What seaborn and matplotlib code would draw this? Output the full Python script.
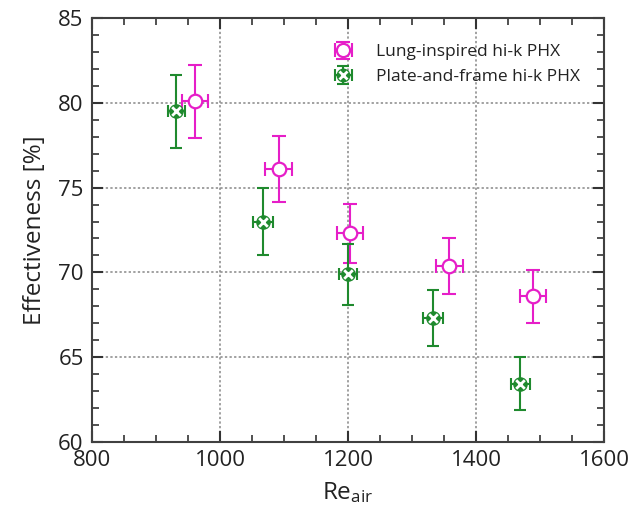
import matplotlib
matplotlib.use("Agg")
import matplotlib.pyplot as plt
import seaborn as sns
import pandas as pd
from matplotlib.lines import Line2D
from matplotlib.legend_handler import HandlerTuple
from matplotlib.ticker import MultipleLocator

# ---- data ----
lung_re = [961, 1092, 1203, 1358, 1489]
lung_eff = [80.1, 76.1, 72.3, 70.4, 68.6]
lung_eff_err = [2.15, 1.95, 1.75, 1.65, 1.57]
lung_re_err = [20, 21, 20, 21, 21]

plate_re = [932, 1067, 1200, 1333, 1469]
plate_eff = [79.5, 73.0, 69.9, 67.3, 63.45]
plate_eff_err = [2.15, 1.95, 1.8, 1.65, 1.55]
plate_re_err = [14, 15.5, 14, 16, 15]

series_names = ["Lung-inspired hi-k PHX", "Plate-and-frame hi-k PHX"]

MAG = "#E61EC8"
GRN = "#1F8A2E"

sns.set_theme(style="ticks")
plt.rcParams["font.family"] = ["Open Sans", "DejaVu Sans"]
plt.rcParams["mathtext.fontset"] = "custom"
plt.rcParams["mathtext.rm"] = "Open Sans"
plt.rcParams["mathtext.it"] = "Open Sans"

df_l = pd.DataFrame({"Re": lung_re, "Eff": lung_eff})
df_p = pd.DataFrame({"Re": plate_re, "Eff": plate_eff})

fig = plt.figure(figsize=(6.38, 5.14), dpi=100)
ax = fig.add_axes([0.1442, 0.14, 0.8025, 0.825])

# error bars
eb_l = ax.errorbar(lung_re, lung_eff, yerr=lung_eff_err, xerr=lung_re_err, fmt="none",
                   ecolor=MAG, elinewidth=1.5, capsize=5, capthick=1.5, zorder=3)
eb_p = ax.errorbar(plate_re, plate_eff, yerr=plate_eff_err, xerr=plate_re_err, fmt="none",
                   ecolor=GRN, elinewidth=1.5, capsize=4.5, capthick=1.5, zorder=3)

# markers via seaborn
sns.scatterplot(data=df_l, x="Re", y="Eff", ax=ax, marker="o", s=95,
                facecolor="white", edgecolor=MAG, linewidth=1.6, zorder=5)
sns.scatterplot(data=df_p, x="Re", y="Eff", ax=ax, marker="o", s=90,
                color=GRN, edgecolor=GRN, linewidth=1.0, zorder=5)
sns.scatterplot(data=df_p, x="Re", y="Eff", ax=ax, marker="x", s=38,
                color="white", linewidth=2.0, zorder=6)

ax.set_xlim(800, 1600)
ax.set_ylim(60, 85)
ax.xaxis.set_major_locator(MultipleLocator(200))
ax.xaxis.set_minor_locator(MultipleLocator(50))
ax.yaxis.set_major_locator(MultipleLocator(5))
ax.yaxis.set_minor_locator(MultipleLocator(1))

ax.grid(True, which="major", linestyle=(0, (1.5, 1.5)), color="#888888", linewidth=1.1)
ax.tick_params(which="both", direction="in", top=True, right=True, colors="#333333",
               labelcolor="#222222")
ax.tick_params(which="major", length=8, width=1.5, labelsize=16, pad=6)
ax.tick_params(which="minor", length=5, width=1.2)
for s in ax.spines.values():
    s.set_color("#404040")
    s.set_linewidth(1.5)

ax.set_xlabel(r"Re$_{\mathrm{air}}$", fontsize=17.5, color="#222222", labelpad=6)
ax.set_ylabel("Effectiveness [%]", fontsize=17.5, color="#222222", labelpad=8)

h_l = (eb_l, Line2D([], [], marker="o", linestyle="none", markersize=9.5,
                    markerfacecolor="white", markeredgecolor=MAG, markeredgewidth=1.6))
h_p = (eb_p, Line2D([], [], marker="o", linestyle="none", markersize=9,
                    markerfacecolor=GRN, markeredgecolor=GRN),
       Line2D([], [], marker="x", linestyle="none", markersize=5.5,
              markeredgecolor="white", markeredgewidth=2.0))
leg = ax.legend([h_l, h_p], series_names, handler_map={tuple: HandlerTuple(ndivide=1)},
                loc="upper left", bbox_to_anchor=(0.43, 0.975), frameon=False,
                fontsize=12.5, handlelength=1.8, labelspacing=0.5, handletextpad=1.0)
for t in leg.get_texts():
    t.set_color("#222222")

ax.set_xticks([800, 1000, 1200, 1400, 1600])
fig.savefig("out.png", dpi=100)
